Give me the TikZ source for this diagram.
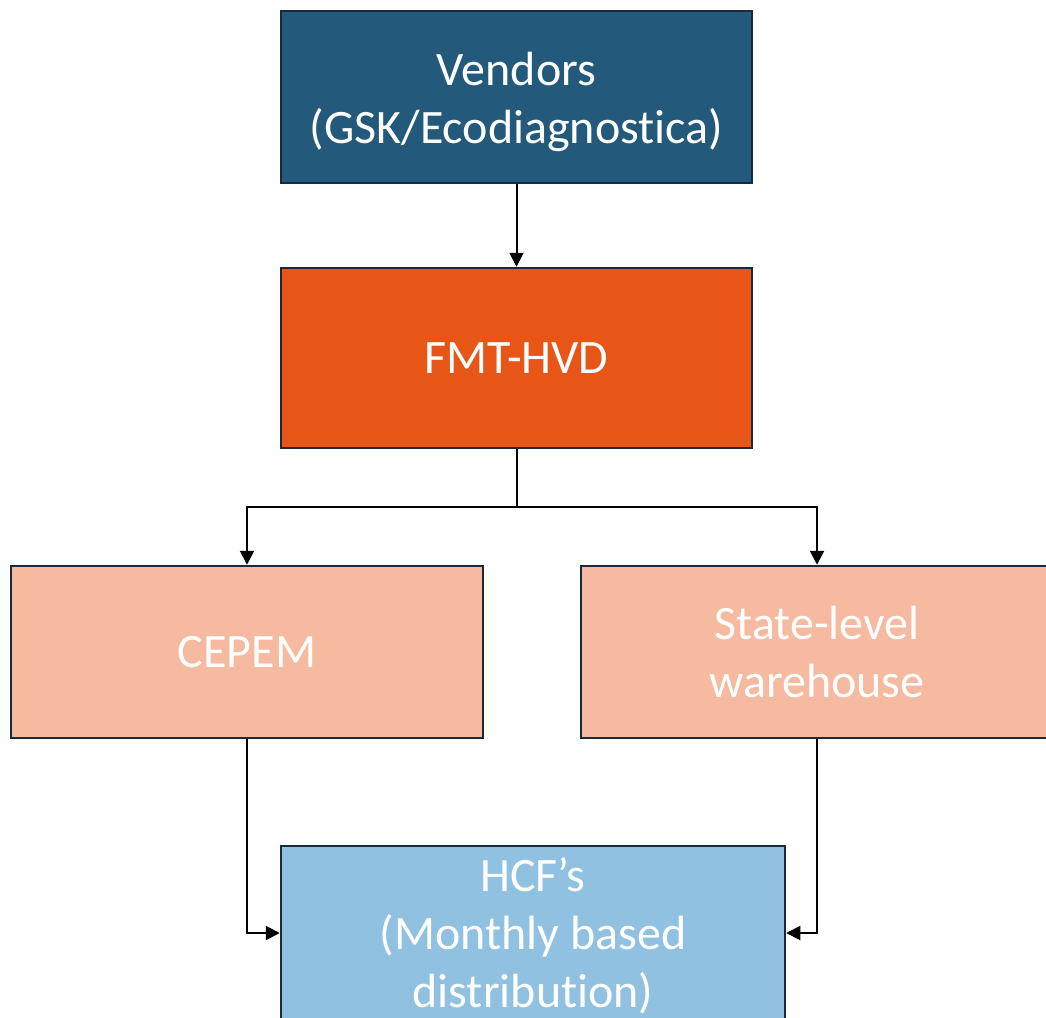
\documentclass[tikz,border=0pt]{standalone}
\usepackage{fontspec}
\setmainfont{Carlito}[Ligatures=NoCommon]
\usetikzlibrary{arrows.meta}
\definecolor{vendblue}{HTML}{235A7C}
\definecolor{fmtorange}{HTML}{E85617}
\definecolor{peach}{HTML}{F5BA9F}
\definecolor{lightblue}{HTML}{90C1E0}
\definecolor{edgedark}{HTML}{1B2A38}
\newcommand{\shiftlines}[2]{\raisebox{-#1}[\height][\depth]{\begin{tabular}{@{}c@{}}#2\end{tabular}}}
\tikzset{
  box/.style={draw=edgedark, line width=2.5pt, inner sep=0pt, align=center,
    text=white, font=\fontsize{48pt}{58pt}\selectfont},
  arr/.style={draw=black, line width=2pt, -{Triangle[width=14pt,length=14pt]}},
  conn/.style={draw=black, line width=2pt}
}
\begin{document}
\begin{tikzpicture}[x=1pt,y=-1pt]
\clip (0,0) rectangle (1046,1017);
\fill[white] (0,0) rectangle (1046,1017);
\node[box, fill=vendblue, minimum width=471pt, minimum height=172pt] (vend) at (516.5,97) {\shiftlines{6pt}{Vendors\\(GSK/Ecodiagnostica)}};
\node[box, fill=fmtorange, minimum width=471pt, minimum height=180pt] (fmt) at (516.5,358) {FMT-HVD};
\node[box, fill=peach, minimum width=472pt, minimum height=172pt] (cepem) at (247,652) {CEPEM};
\node[box, fill=peach, minimum width=472pt, minimum height=172pt] (state) at (817,652) {\shiftlines{5pt}{State-level\\warehouse}};
\node[box, fill=lightblue, minimum width=504pt, minimum height=172pt] (hcf) at (533,933) {\shiftlines{5pt}{HCF’s\\(Monthly based\\distribution)}};
\coordinate (j) at (516.5,507);
\draw[arr] (vend) -- (fmt);
\draw[conn] (fmt.south) -- (j);
\draw[arr] (j) -| (cepem.north);
\draw[arr] (j) -| (state.north);
\draw[arr] (cepem.south) |- (hcf.west);
\draw[arr] (state.south) |- (hcf.east);
\end{tikzpicture}
\end{document}
